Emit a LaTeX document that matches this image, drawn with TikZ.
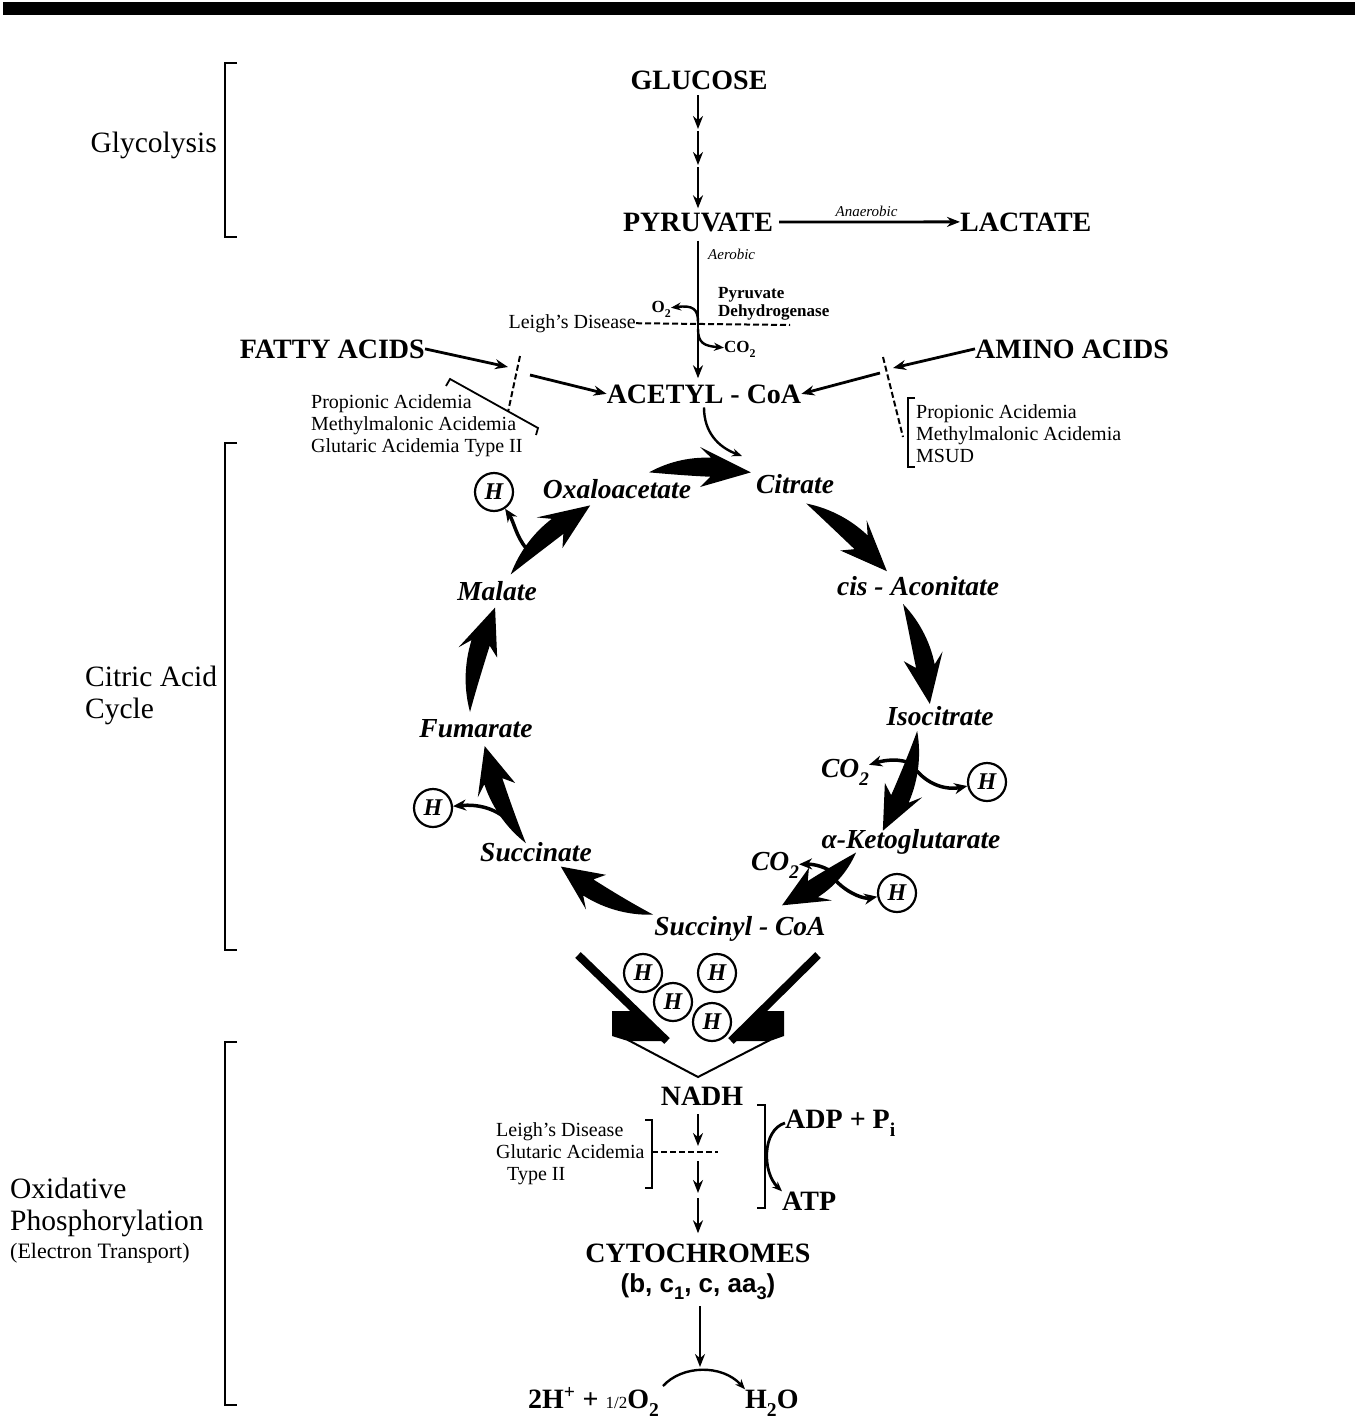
\documentclass[tikz,border=0pt]{standalone}
\usepackage{fontspec}
\setmainfont{Liberation Serif}
\setsansfont{Liberation Sans}
\usetikzlibrary{arrows.meta}
\newcommand{\lowsub}[1]{\raisebox{-.3em}{\scalebox{.7}{#1}}}
\newcommand{\cycarrow}[3]{
\pgfmathsetmacro{\cycneck}{#2-9.5}
\pgfmathsetmacro{\cycbarb}{#2-12}
\fill ({700+#3*cos(#1)}, {712+#3*sin(#1)})
  -- plot[domain=0:1, samples=16] ({700+(#3+9.5*\x*(2-\x))*cos(#1+\x*(\cycneck-(#1)))}, {712+(#3+9.5*\x*(2-\x))*sin(#1+\x*(\cycneck-(#1)))})
  -- ({700+(#3+20)*cos(\cycbarb)}, {712+(#3+20)*sin(\cycbarb)})
  -- ({700+#3*cos(#2)}, {712+#3*sin(#2)})
  -- ({700+(#3-20)*cos(\cycbarb)}, {712+(#3-20)*sin(\cycbarb)})
  -- plot[domain=0:1, samples=16] ({700+(#3-9.5*(1-\x)*(1+\x))*cos(\cycneck-\x*(\cycneck-(#1)))}, {712+(#3-9.5*(1-\x)*(1+\x))*sin(\cycneck-\x*(\cycneck-(#1)))})
  -- cycle;
}

\begin{document}
\begin{tikzpicture}[x=1pt, y=-1pt,
  >={Stealth[length=13pt, width=10pt]},
  big/.style={font=\fontsize{28}{30}\selectfont\bfseries, inner sep=0pt},
  cyc/.style={font=\fontsize{27.5}{29}\selectfont\bfseries\itshape, inner sep=0pt},
  side/.style={font=\fontsize{29.5}{32}\selectfont, inner sep=0pt},
  dis/.style={font=\fontsize{20}{22}\selectfont, inner sep=0pt, align=left},
  tiny/.style={font=\fontsize{15}{17}\selectfont\itshape, inner sep=0pt},
  enz/.style={font=\fontsize{17}{18}\selectfont\bfseries, inner sep=0pt, align=left},
  arr/.style={->, line width=2.8pt},
  thinarr/.style={-{Stealth[length=10pt, width=8pt]}, line width=2.4pt},
  branch/.style={-{Stealth[length=13pt, width=11pt]}, line width=3.5pt},
  dashline/.style={line width=2pt, dash pattern=on 6pt off 3pt},
  brk/.style={line width=1.8pt},
  hcirc/.style={circle, draw, line width=2.2pt, fill=white, minimum size=38pt, inner sep=0pt, font=\fontsize{24}{24}\selectfont\bfseries\itshape}]
\useasboundingbox (0,0) rectangle (1355,1426);
\fill (3,2) rectangle (1355,15);

\draw[brk] (237,63) -- (225,63) -- (225,237) -- (237,237);
\draw[brk] (237,443) -- (225,443) -- (225,950) -- (237,950);
\draw[brk] (237,1042) -- (225,1042) -- (225,1405) -- (237,1405);
\node[side, anchor=base east] (glyco) at (217,153) {Glycolysis};
\node[side, anchor=base west] (tca1) at (85,686) {Citric Acid};
\node[side, anchor=base west] (tca2) at (85,718) {Cycle};
\node[side, anchor=base west] (ox1) at (10,1198) {Oxidative};
\node[side, anchor=base west] (ox2) at (10,1230) {Phosphorylation};
\node[dis, font=\fontsize{22}{24}\selectfont, anchor=base west] (ox3) at (10,1258) {(Electron Transport)};

\node[big, anchor=base] (glucose) at (699,90) {GLUCOSE};
\node[big, anchor=base] (pyruvate) at (698,231) {PYRUVATE};
\node[big, anchor=base west] (lactate) at (960,231) {LACTATE};
\node[big, anchor=base east] (fatty) at (425,358) {FATTY ACIDS};
\node[big, anchor=base west] (amino) at (975,358) {AMINO ACIDS};
\node[big, anchor=base] (acetyl) at (704,403) {ACETYL - CoA};

\coordinate (g1) at (698,129);
\coordinate (g2) at (698,165);
\draw[arr, shorten <=5pt] (glucose.south -| g1) -- (g1);
\draw[arr, shorten <=2pt] (g1) -- (g2);
\draw[arr, shorten <=2pt, shorten >=4pt] (g2) -- (pyruvate.north -| g2);
\draw[arr, shorten <=6pt] (pyruvate) -- node[tiny, above=4pt] (anaer) {Anaerobic} (lactate);
\draw[arr, shorten <=9pt, shorten >=6pt] (pyruvate.south) -- (pyruvate.south |- acetyl.north);
\node[tiny, anchor=base west] (aerob) at (708,259) {Aerobic};

\node[enz, anchor=north west] (pdh) at (718,287) {Pyruvate\\Dehydrogenase};
\node[enz, anchor=base east] (otwo) at (671,312) {O\lowsub{2}};
\node[enz, anchor=base west] (cotwo) at (724,352) {CO\lowsub{2}};
\coordinate (pdhA) at (698,322);
\coordinate (pdhB) at (698,329);
\draw[thinarr] (pdhA) .. controls (698,309) and (693,305) .. (otwo);
\draw[thinarr] (pdhB) .. controls (698,343) and (704,346) .. (cotwo);
\node[dis, anchor=base east] (leigh) at (636,328) {Leigh's Disease};
\coordinate (leighEnd) at (790,325);
\draw[dashline] (leigh.east) -- (leighEnd);

\coordinate (fa1) at (508,367);
\coordinate (fa2) at (530,375);
\coordinate (fdA) at (520,356);
\coordinate (fdB) at (508,412);
\draw[arr] (fatty.east) -- (fa1);
\draw[dashline] (fdA) -- (fdB);
\draw[arr] (fa2) -- (acetyl.west);
\node[dis, anchor=north west] (fadis) at (311,394) {Propionic Acidemia\\Methylmalonic Acidemia\\Glutaric Acidemia Type II};
\draw[brk] (446,386) -- (450,379) -- (538,428) -- (536,435);

\coordinate (aa1) at (893,368);
\coordinate (aa2) at (880,373);
\coordinate (adA) at (883,357);
\coordinate (adB) at (903,437);
\draw[arr] (amino.west) -- (aa1);
\draw[dashline] (adA) -- (adB);
\draw[arr] (aa2) -- (acetyl.east);
\node[dis, anchor=north west] (aadis) at (916,404) {Propionic Acidemia\\Methylmalonic Acidemia\\MSUD};
\draw[brk] (915,398) -- (908,398) -- (908,467) -- (915,467);

\coordinate (citIn) at (742,456);
\draw[thinarr, shorten <=4pt] (acetyl.south) .. controls (704,432) and (718,447) .. (citIn);

\node[cyc, anchor=base] (oaa) at (617,498) {Oxaloacetate};
\node[cyc, anchor=base] (citrate) at (795,493) {Citrate};
\node[cyc, anchor=base] (cisaco) at (918,595) {cis - Aconitate};
\node[cyc, anchor=base] (isocit) at (940,725) {Isocitrate};
\node[cyc, anchor=base] (akg) at (911,848) {α-Ketoglutarate};
\node[cyc, anchor=base] (succoa) at (740,935) {Succinyl - CoA};
\node[cyc, anchor=base] (succ) at (536,861) {Succinate};
\node[cyc, anchor=base] (fum) at (476,737) {Fumarate};
\node[cyc, anchor=base] (malate) at (497,600) {Malate};
\node[cyc, anchor=base] (co2a) at (845,777) {CO\lowsub{2}};
\node[cyc, anchor=base] (co2b) at (775,870) {CO\lowsub{2}};

\cycarrow{-102}{-78}{245}
\cycarrow{-63}{-37}{234}
\cycarrow{-28}{-2}{230}
\cycarrow{5}{33}{218}
\cycarrow{42}{67}{210}
\cycarrow{103}{132}{208}
\cycarrow{143}{171}{218}
\cycarrow{180}{207}{230}
\cycarrow{216}{242}{234}

\node[hcirc] (hA) at (494,492) {H};
\node[hcirc] (hB) at (433,808) {H};
\node[hcirc] (hC) at (987,782) {H};
\node[hcirc] (hD) at (897,893) {H};
\coordinate (bA) at (526,548);
\coordinate (bB) at (512,824);
\coordinate (bC1) at (912,764);
\coordinate (bC2) at (917,771);
\coordinate (bD1) at (832,872);
\coordinate (bD2) at (836,881);
\draw[branch] (bA) .. controls (516,536) and (514,522) .. (hA);
\draw[branch] (bB) .. controls (497,808) and (478,804) .. (hB);
\draw[branch] (bC1) .. controls (900,758) and (885,760) .. (co2a);
\draw[branch] (bC2) .. controls (930,786) and (948,790) .. (hC);
\draw[branch] (bD1) .. controls (822,865) and (810,864) .. (co2b);
\draw[branch] (bD2) .. controls (850,895) and (865,899) .. (hD);

\draw[line width=8pt] (578,955) -- (667,1041);
\draw[line width=8pt] (818,955) -- (731,1041);
\fill (612,1011) -- (634,1011) -- (667,1041) -- (628,1041) -- (612,1036) -- cycle;
\fill (784,1011) -- (762,1011) -- (731,1041) -- (770,1041) -- (784,1036) -- cycle;
\draw[line width=2pt] (628,1040) -- (698,1077) -- (770,1040);
\node[hcirc] (hE) at (643,973) {H};
\node[hcirc] (hF) at (717,973) {H};
\node[hcirc] (hG) at (673,1002) {H};
\node[hcirc] (hH) at (712,1022) {H};

\node[big, anchor=base] (nadh) at (702,1105) {NADH};
\node[big, anchor=base] (cyto) at (698,1262) {CYTOCHROMES};
\node[font=\fontsize{26}{28}\selectfont\sffamily\bfseries, inner sep=0pt, anchor=base] (cytsub) at (698,1292) {(b, c\lowsub{1}, c, aa\lowsub{3})};
\coordinate (nA) at (698,1146);
\coordinate (nB) at (698,1161);
\coordinate (nC) at (698,1193);
\coordinate (nD) at (698,1198);
\draw[arr, shorten <=9pt] (nadh.south -| nA) -- (nA);
\draw[arr] (nB) -- (nC);
\draw[arr, shorten >=10pt] (nD) -- (cyto.north -| nD);
\node[dis, anchor=north west] (etdis) at (496,1122) {Leigh's Disease\\Glutaric Acidemia\\\hspace*{11pt}Type II};
\draw[brk] (645,1120) -- (652,1120) -- (652,1188) -- (645,1188);
\coordinate (etA) at (652,1152);
\coordinate (etB) at (718,1152);
\draw[dashline] (etA) -- (etB);

\draw[brk] (757,1105) -- (765,1105) -- (765,1208) -- (757,1208);
\node[big, anchor=base west] (adp) at (785,1128) {ADP + P\lowsub{i}};
\node[big, anchor=base west] (atp) at (782,1210) {ATP};
\draw[thinarr, line width=2.8pt] (adp.west) .. controls (762,1130) and (762,1172) .. (atp.north west);

\coordinate (oxy) at (700,1367);
\draw[arr, shorten <=6pt] (cytsub.south -| oxy) -- (oxy);
\node[big, anchor=base west] (protons) at (528,1408) {2H\textsuperscript{+} + {\mdseries\fontsize{17}{17}\selectfont 1/2}O\lowsub{2}};
\node[big, anchor=base west] (water) at (745,1408) {H\lowsub{2}O};
\coordinate (wA) at (663,1386);
\draw[thinarr] (wA) .. controls (682,1365) and (722,1364) .. (water.north west);
\end{tikzpicture}
\end{document}
